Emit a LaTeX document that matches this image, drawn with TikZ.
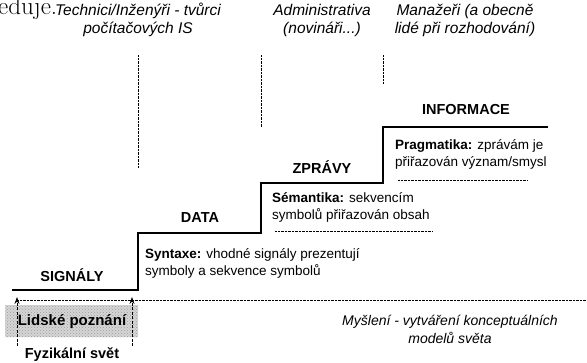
\documentclass[tikz,border=0pt]{standalone}
\usepackage{fontspec}
\setmainfont{Liberation Sans}
\newfontfamily\serifpage{Latin Modern Roman}
\usetikzlibrary{arrows.meta,patterns}
\begin{document}
\begin{tikzpicture}[x=1pt,y=-1pt,
  role/.style={font=\fontsize{15.5}{18}\selectfont\itshape,align=center,inner sep=0pt},
  level/.style={font=\fontsize{14.5}{18}\selectfont\bfseries,inner sep=0pt},
  body/.style={font=\fontsize{13.5}{17}\selectfont,align=left,anchor=west,inner sep=0pt},
  stair/.style={line width=2pt,line join=miter},
  fine/.style={line width=0.7pt,dash pattern=on 0.7pt off 0.7pt},
  uparrow/.style={line width=0.8pt,dash pattern=on 3pt off 1.5pt,-{Stealth[length=7pt,width=5pt]}}
]
\clip (0,0) rectangle (587,362);
\fill[white] (0,0) rectangle (587,362);

% fragment of the page text above the figure
\node[font=\serifpage\fontsize{25}{25}\selectfont,anchor=base west,inner sep=0pt] (pagetext) at (-2,14) {eduje.};

% user groups along the top
\node[role] (tech) at (138,20) {Technici/Inženýři - tvůrci\\počítačových IS};
\node[role] (admin) at (322,20) {Administrativa\\(novináři...)};
\node[role] (mgr) at (465,20) {Manažeři (a obecně\\lidé při rozhodování)};

\draw[fine] (138,55) coordinate (t1) -- (138,168) coordinate (t1e);
\draw[fine] (261,55) coordinate (t2) -- (261,127) coordinate (t2e);
\draw[fine] (383,55) coordinate (t3) -- (383,84) coordinate (t3e);

% staircase of levels
\coordinate (s0) at (12,290);
\coordinate (s1) at (138,290);
\coordinate (s2) at (138,233);
\coordinate (s3) at (261,233);
\coordinate (s4) at (261,183);
\coordinate (s5) at (383,183);
\coordinate (s6) at (383,127);
\coordinate (s7) at (548,127);
\draw[stair] (s0) -- (s1) -- (s2) -- (s3) -- (s4) -- (s5) -- (s6) -- (s7);

\node[level] (signaly) at (72,275) {SIGNÁLY};
\node[level] (data) at (200,218) {DATA};
\node[level] (zpravy) at (322,167) {ZPRÁVY};
\node[level] (informace) at (466,110) {INFORMACE};

\node[body] (syntaxe) at (145,263) {\textbf{Syntaxe:} vhodné signály prezentují\\symboly a sekvence symbolů};
\node[body] (semantika) at (272,207) {\textbf{Sémantika:} sekvencím\\symbolů přiřazován obsah};
\node[body] (pragmatika) at (395,154) {\textbf{Pragmatika:} zprávám je\\přiřazován význam/smysl};

\draw[fine] (275,231) coordinate (d1) -- (433,231) coordinate (d1e);
\draw[fine] (398,180) coordinate (d2) -- (528,180) coordinate (d2e);

% boundary between the physical world and human thinking
\draw[fine] (17,300) coordinate (b0) -- (587,300) coordinate (b1);

% human cognition band
\path[fill=gray!32] (5,305) rectangle (138,337);
\path[pattern=crosshatch dots,pattern color=gray!80] (5,305) rectangle (138,337);
\node[font=\fontsize{15}{17}\selectfont\bfseries,inner sep=0pt] (poznani) at (72,322) {Lidské poznání};

\coordinate (a1s) at (17,346);
\coordinate (a1e) at (17,297);
\coordinate (a2s) at (132,346);
\coordinate (a2e) at (132,297);
\draw[uparrow] (a1s) -- (a1e);
\draw[uparrow] (a2s) -- (a2e);

\node[level] (fyz) at (72,355) {Fyzikální svět};

\node[role,font=\fontsize{14}{18}\selectfont\itshape] (mysleni) at (450,329) {Myšlení - vytváření konceptuálních\\modelů světa};
\end{tikzpicture}
\end{document}
